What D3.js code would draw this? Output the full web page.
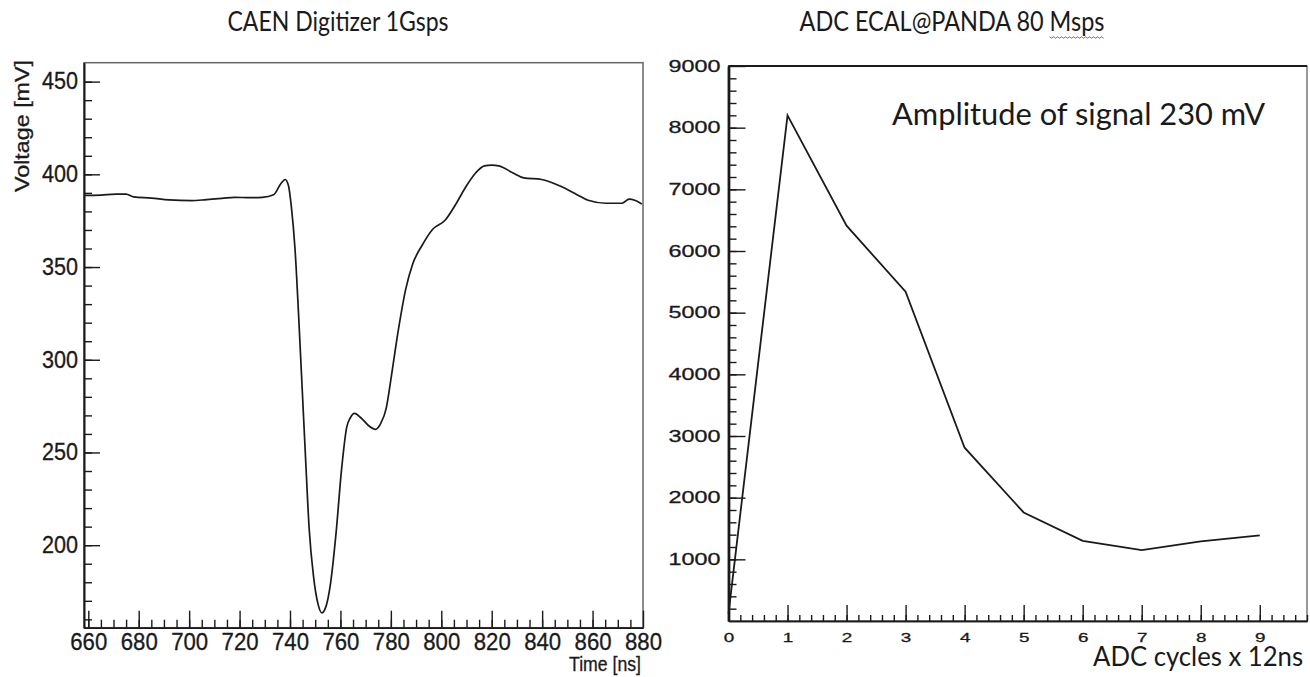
<!DOCTYPE html>
<html>
<head>
<meta charset="utf-8">
<script src="https://cdn.jsdelivr.net/npm/d3@7"></script>
<style>
  body { margin: 0; background: #fff; }
  svg { display: block; }
</style>
</head>
<body>
<svg id="chart" width="1310" height="677"></svg>
<script>
// left panel: CAEN digitizer trace (ns, mV)
const caenTime = [658.3, 665, 671, 675, 678, 685, 692, 701, 707, 713, 718, 724, 729, 733.5, 736.3, 738.1, 739.4, 740.5,
  742, 743.4, 744.8, 746.2, 747.6, 749.3, 751.2, 752.6, 754, 756.1, 758.3, 760.4, 762.5, 763.9, 765.6, 768.2, 771,
  773.9, 776, 778.1, 780.2, 782.8, 785.9, 788.7, 792.3, 796.6, 801.5, 805.8, 810, 813.6, 817.1, 820, 822.8, 828.5,
  832.7, 839.8, 846.9, 854, 858.2, 865.3, 871.7, 874.5, 876.7, 879.5];
const caenVoltage = [388.6, 388.8, 389.3, 389.3, 387.8, 387.2, 386.2, 385.8, 386.4, 387, 387.6, 387.4, 387.6, 389,
  394.8, 397.2, 393.8, 383, 359.6, 324.4, 285.3, 246.1, 208.9, 183.5, 167.8, 163.5, 165.9, 179.6, 207, 240.2, 263.7,
  268.6, 271.1, 268.6, 264.7, 262.5, 265.7, 273.5, 291.1, 314.6, 338.1, 351.8, 361.5, 370.4, 375.2, 384, 393.8,
  400.7, 404.6, 405, 404.6, 400.7, 398.1, 397.2, 393.8, 388.9, 386, 384.4, 384.4, 386.6, 386, 384];
const voltTicks = [200, 250, 300, 350, 400, 450];
const timeTicks = [660, 680, 700, 720, 740, 760, 780, 800, 820, 840, 860, 880];

// right panel: ADC samples
const adcCycles = [0, 1, 2, 3, 4, 5, 6, 7, 8, 9];
const adcCounts = [120, 8200, 6410, 5340, 2810, 1760, 1300, 1150, 1290, 1390];
const countTicks = [1000, 2000, 3000, 4000, 5000, 6000, 7000, 8000, 9000];
const cycleTicks = [0, 1, 2, 3, 4, 5, 6, 7, 8, 9];

const svg = d3.select("#chart");
const ink = "#1a1a1a";
const helv = "'Liberation Sans', Arial, Helvetica, sans-serif";
const calib = "Lato, 'Open Sans', sans-serif";

function styleAxis(g, size) {
  g.attr("color", ink);
  g.select(".domain").attr("stroke-width", 1.6);
  g.selectAll(".tick line").attr("stroke-width", 1.4);
  g.selectAll(".tick text")
    .attr("font-family", helv).attr("font-size", size)
    .attr("fill", ink).attr("stroke", ink).attr("stroke-width", 0.3);
}

// ---------- left panel ----------
const xL = d3.scaleLinear().domain([658.3, 880]).range([84, 643]);
const yL = d3.scaleLinear().domain([155.5, 460.2]).range([627.7, 62.7]);

svg.append("rect")
  .attr("x", xL.range()[0]).attr("y", yL.range()[1])
  .attr("width", xL.range()[1] - xL.range()[0])
  .attr("height", yL.range()[0] - yL.range()[1])
  .attr("fill", "none").attr("stroke", "#666").attr("stroke-width", 1.5);

svg.append("g").attr("transform", `translate(${xL.range()[0]},0)`)
  .call(d3.axisLeft(yL).tickValues(d3.range(160, 460, 10)).tickSizeInner(-8).tickSizeOuter(0).tickFormat(() => ""))
  .call(g => styleAxis(g, 23));
svg.append("g").attr("transform", `translate(${xL.range()[0]},0)`)
  .call(d3.axisLeft(yL).tickValues(voltTicks).tickSizeInner(-16).tickSizeOuter(0).tickPadding(6).tickFormat(d3.format("d")))
  .call(g => styleAxis(g, 23))
  .call(g => g.selectAll(".tick text").attr("textLength", 36).attr("lengthAdjust", "spacingAndGlyphs"));

svg.append("g").attr("transform", `translate(0,${yL.range()[0]})`)
  .call(d3.axisBottom(xL).tickValues(d3.range(660, 880, 5)).tickSizeInner(-8).tickSizeOuter(0).tickFormat(() => ""))
  .call(g => styleAxis(g, 23));
svg.append("g").attr("transform", `translate(0,${yL.range()[0]})`)
  .call(d3.axisBottom(xL).tickValues(timeTicks).tickSizeInner(-17).tickSizeOuter(0).tickPadding(6).tickFormat(d3.format("d")))
  .call(g => styleAxis(g, 23))
  .call(g => g.selectAll(".tick text").attr("textLength", 37).attr("lengthAdjust", "spacingAndGlyphs"));

svg.append("path")
  .datum(caenTime.map((t, i) => [t, caenVoltage[i]]))
  .attr("fill", "none").attr("stroke", ink).attr("stroke-width", 1.7)
  .attr("d", d3.line().x(d => xL(d[0])).y(d => yL(d[1])).curve(d3.curveMonotoneX));

svg.append("text")
  .attr("x", 641).attr("y", 671).attr("text-anchor", "end")
  .attr("font-family", helv).attr("font-size", 20).attr("fill", ink)
  .attr("stroke", ink).attr("stroke-width", 0.3)
  .attr("textLength", 72).attr("lengthAdjust", "spacingAndGlyphs")
  .text("Time [ns]");

svg.append("text")
  .attr("transform", "translate(29,60) rotate(-90)")
  .attr("text-anchor", "end")
  .attr("font-family", helv).attr("font-size", 21).attr("fill", ink)
  .attr("stroke", ink).attr("stroke-width", 0.3)
  .attr("textLength", 132).attr("lengthAdjust", "spacingAndGlyphs")
  .text("Voltage [mV]");

svg.append("text")
  .attr("x", 338).attr("y", 31).attr("text-anchor", "middle")
  .attr("font-family", calib).attr("font-size", 26).attr("fill", ink)
  .attr("textLength", 221).attr("lengthAdjust", "spacingAndGlyphs")
  .text("CAEN Digitizer 1Gsps");

// ---------- right panel ----------
const xR = d3.scaleLinear().domain([0, 9.8]).range([728.5, 1307]);
const yR = d3.scaleLinear().domain([0, 9000]).range([621, 66]);

svg.append("rect")
  .attr("x", xR.range()[0]).attr("y", yR.range()[1])
  .attr("width", xR.range()[1] - xR.range()[0])
  .attr("height", yR.range()[0] - yR.range()[1])
  .attr("fill", "none").attr("stroke", "#555").attr("stroke-width", 1.2);
svg.append("line")
  .attr("x1", xR.range()[0]).attr("x2", xR.range()[1])
  .attr("y1", yR.range()[1]).attr("y2", yR.range()[1])
  .attr("stroke", ink).attr("stroke-width", 2);

svg.append("g").attr("transform", `translate(${xR.range()[0]},0)`)
  .call(d3.axisLeft(yR).tickValues(d3.range(200, 9000, 200)).tickSizeInner(-8).tickSizeOuter(0).tickFormat(() => ""))
  .call(g => styleAxis(g, 16.5))
  .call(g => g.select(".domain").attr("stroke-width", 2.4));
svg.append("g").attr("transform", `translate(${xR.range()[0]},0)`)
  .call(d3.axisLeft(yR).tickValues(countTicks).tickSizeInner(-17).tickSizeOuter(0).tickPadding(8).tickFormat(d3.format("d")))
  .call(g => styleAxis(g, 16.5))
  .call(g => g.select(".domain").attr("stroke-width", 2.4))
  .call(g => g.selectAll(".tick text").attr("textLength", 52).attr("lengthAdjust", "spacingAndGlyphs"));

svg.append("g").attr("transform", `translate(0,${yR.range()[0]})`)
  .call(d3.axisBottom(xR).tickValues(d3.range(0.2, 9.8, 0.2)).tickSizeInner(-6).tickSizeOuter(0).tickFormat(() => ""))
  .call(g => styleAxis(g, 13));
svg.append("g").attr("transform", `translate(0,${yR.range()[0]})`)
  .call(d3.axisBottom(xR).tickValues(cycleTicks).tickSizeInner(-16).tickSizeOuter(0).tickPadding(12).tickFormat(d3.format("d")))
  .call(g => styleAxis(g, 13))
  .call(g => g.selectAll(".tick text").attr("transform", "scale(1.45,1)"));

svg.append("path")
  .datum(adcCycles.map((c, i) => [c, adcCounts[i]]))
  .attr("fill", "none").attr("stroke", ink).attr("stroke-width", 1.8)
  .attr("d", d3.line().x(d => xR(d[0])).y(d => yR(d[1])));

svg.append("text")
  .attr("x", 892).attr("y", 125)
  .attr("font-family", calib).attr("font-size", 31).attr("fill", ink)
  .attr("textLength", 373).attr("lengthAdjust", "spacingAndGlyphs")
  .text("Amplitude of signal 230 mV");

svg.append("text")
  .attr("x", 1303).attr("y", 666).attr("text-anchor", "end")
  .attr("font-family", calib).attr("font-size", 26).attr("fill", ink)
  .attr("textLength", 210).attr("lengthAdjust", "spacingAndGlyphs")
  .text("ADC cycles x 12ns");

const rTitle = svg.append("text")
  .attr("x", 952).attr("y", 31).attr("text-anchor", "middle")
  .attr("font-family", calib).attr("font-size", 26).attr("fill", ink)
  .attr("textLength", 305).attr("lengthAdjust", "spacingAndGlyphs")
  .text("ADC ECAL@PANDA 80 Msps");

// spell-check squiggle under "Msps"
const tn = rTitle.node();
const s = tn.getNumberOfChars() - 4;
const x0 = tn.getStartPositionOfChar(s).x;
const x1 = tn.getEndPositionOfChar(s + 3).x;
const wave = d3.range(x0, x1 + 0.1, 2).map((x, i) => [x, 37 + (i % 2 ? 1.2 : -0.2)]);
svg.append("path")
  .attr("d", d3.line()(wave))
  .attr("fill", "none").attr("stroke", "#d33").attr("stroke-width", 0.9);
</script>
</body>
</html>
